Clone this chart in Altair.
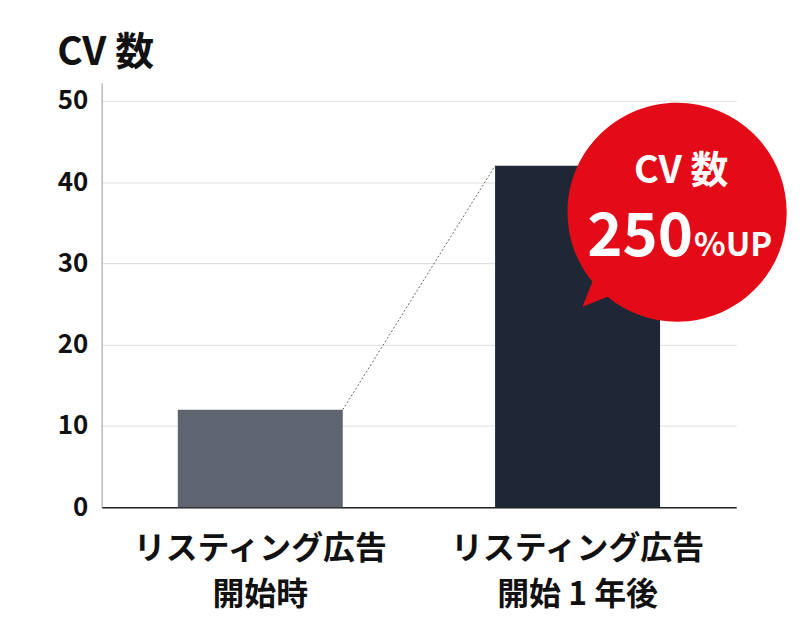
import altair as alt
import pandas as pd

# ---- data ----
categories = ["リスティング広告|開始時", "リスティング広告|開始 1 年後"]
values = [12, 42]
bar_colors = ["#5f6570", "#1f2736"]
y_ticks = [0, 10, 20, 30, 40, 50]
y_max = 52.2
title_text = "CV 数"
bubble_title = "CV 数"
bubble_big = "250"
bubble_small = "%UP"
bubble_value = 36.3  # bubble anchor level on the y scale

FONT = "Noto Sans CJK JP"
RED = "#e30b17"

df = pd.DataFrame({"cat": categories, "v": values, "color": bar_colors})

xscale = alt.Scale(domain=categories, paddingInner=0.48, paddingOuter=0.24)
yscale = alt.Scale(domain=[0, y_max], nice=False)

bars = alt.Chart(df).mark_bar().encode(
    x=alt.X(
        "cat:N",
        scale=xscale,
        title=None,
        axis=alt.Axis(
            labelAngle=0,
            labelExpr="split(datum.label, '|')",
            labelFont=FONT,
            labelFontSize=32,
            labelFontWeight="bold",
            labelColor="#111111",
            labelLineHeight=47,
            labelPadding=26,
            labelLimit=0,
            ticks=False,
            domainColor="#222222",
            domainWidth=1.5,
            grid=False,
        ),
    ),
    y=alt.Y(
        "v:Q",
        scale=yscale,
        title=None,
        axis=alt.Axis(
            values=y_ticks,
            labelFont=FONT,
            labelFontSize=26,
            labelFontWeight="bold",
            labelColor="#111111",
            labelPadding=14,
            ticks=False,
            domainColor="#999999",
            domainWidth=1,
            gridColor="#dddddd",
            gridWidth=1,
        ),
    ),
    color=alt.Color("color:N", scale=None),
)

conn_df = pd.DataFrame(
    {"a": [categories[0]], "b": [categories[1]], "va": [values[0]], "vb": [values[1]]}
)
connector = alt.Chart(conn_df).mark_rule(
    strokeDash=[2, 2], color="#666666", strokeWidth=1
).encode(
    x=alt.X("a:N", bandPosition=1, scale=xscale),
    x2=alt.X2("b:N", bandPosition=0),
    y=alt.Y("va:Q", scale=yscale),
    y2="vb:Q",
)

bubble_path = (
    "M 0.136 0.636 A 1 1 0 1 1 0.273 0.773 L 0.045 0.864 Z"
)
bub_df = pd.DataFrame({"cat": [categories[1]], "v": [bubble_value]})
bubble = alt.Chart(bub_df).mark_point(
    filled=True, opacity=1, color=RED, strokeWidth=0, size=48400, shape=bubble_path
).encode(x=alt.X("cat:N", scale=xscale), y=alt.Y("v:Q", scale=yscale))

t_df = pd.DataFrame(
    {"cat": [categories[1]], "v": [bubble_value], "t1": [bubble_title],
     "t2": [bubble_big], "t3": [bubble_small]}
)
base_t = alt.Chart(t_df).encode(x=alt.X("cat:N", scale=xscale), y=alt.Y("v:Q", scale=yscale))
txt1 = base_t.mark_text(
    font=FONT, fontSize=38, fontWeight="bold", color="white",
    align="center", baseline="middle", dx=104, dy=-40,
).encode(text="t1:N")
txt2 = base_t.mark_text(
    font=FONT, fontSize=60, fontWeight="bold", color="white",
    align="right", baseline="alphabetic", dx=116, dy=44,
).encode(text="t2:N")
txt3 = base_t.mark_text(
    font=FONT, fontSize=33, fontWeight="bold", color="white",
    align="left", baseline="alphabetic", dx=117, dy=44,
).encode(text="t3:N")

chart = (
    alt.layer(bars, connector, bubble, txt1, txt2, txt3)
    .properties(
        width=637,
        height=426,
        title=alt.Title(
            title_text, anchor="start", font=FONT, fontSize=39,
            fontWeight="bold", color="#111111", offset=10, frame="bounds",
        ),
        padding={"left": 49, "top": 25, "right": 5, "bottom": 5},
        background="white",
    )
    .configure_view(stroke=None)
)

chart.save("out.html", embed_options={"renderer": "svg", "actions": False})
